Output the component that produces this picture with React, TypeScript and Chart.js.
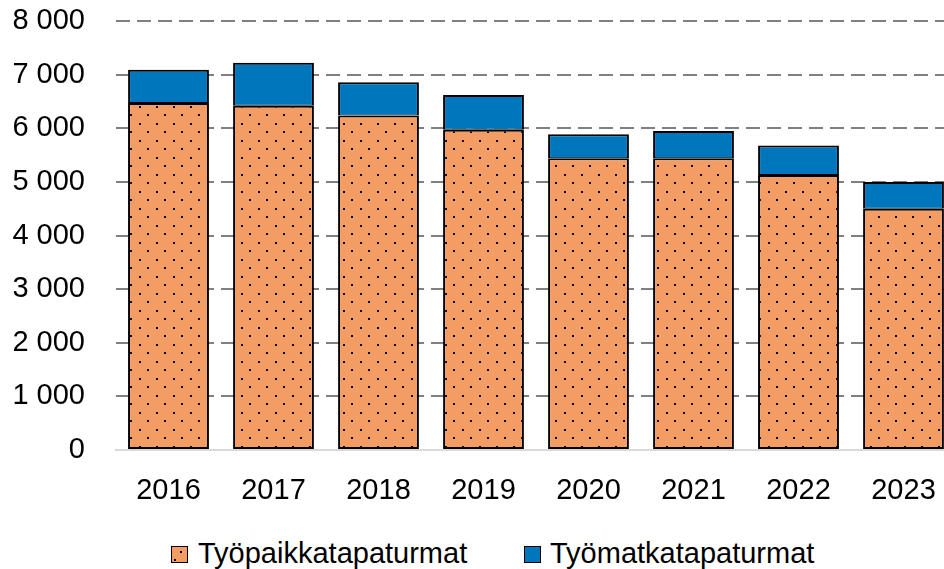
import React, { useEffect, useRef } from "react";
import { Chart, registerables } from "chart.js";

Chart.register(...registerables);

const years = ["2016", "2017", "2018", "2019", "2020", "2021", "2022", "2023"];
const tyopaikka = [6470, 6420, 6240, 5970, 5440, 5440, 5130, 4500];
const tyomatka = [620, 800, 620, 650, 450, 510, 550, 500];
const seriesNames = ["Työpaikkatapaturmat", "Työmatkatapaturmat"];
const yMax = 8000;
const yStep = 1000;

const ORANGE = "#F39C64";
const BLUE = "#0077BD";
const FONT = "'Liberation Sans', Arial, sans-serif";
const FS = 29;

function makePattern(): CanvasPattern | string {
  const c = document.createElement("canvas");
  c.width = 17;
  c.height = 17;
  const g = c.getContext("2d");
  if (!g) return ORANGE;
  g.fillStyle = ORANGE;
  g.fillRect(0, 0, 17, 17);
  g.fillStyle = "#000";
  g.fillRect(3, 4, 2, 2);
  g.fillRect(11, 12, 2, 2);
  const p = g.createPattern(c, "repeat");
  return p || ORANGE;
}

export default function App() {
  const ref = useRef<HTMLCanvasElement | null>(null);

  useEffect(() => {
    if (!ref.current) return;
    const pattern = makePattern();
    const chart = new Chart(ref.current, {
      type: "bar",
      data: {
        labels: years,
        datasets: [
          {
            label: seriesNames[0],
            data: tyopaikka,
            backgroundColor: pattern as any,
            borderColor: "#000",
            borderWidth: 2,
            borderSkipped: false,
            categoryPercentage: 1,
            barPercentage: 0.77,
          },
          {
            label: seriesNames[1],
            data: tyomatka,
            backgroundColor: BLUE,
            borderColor: "#000",
            borderWidth: { top: 2, left: 2, right: 2, bottom: 1 },
            borderSkipped: false,
            categoryPercentage: 1,
            barPercentage: 0.77,
          },
        ],
      },
      options: {
        animation: false,
        responsive: false,
        maintainAspectRatio: false,
        layout: { padding: { left: 13, top: 21, right: 4, bottom: 0 } },
        plugins: {
          legend: { display: false },
          tooltip: { enabled: false },
        },
        scales: {
          x: {
            stacked: true,
            grid: { display: false, drawTicks: false },
            border: { display: true, color: "#D9D9D9", width: 2 },
            ticks: {
              color: "#000",
              font: { family: FONT, size: FS },
              padding: 24,
              maxRotation: 0,
            },
            afterFit: (s: any) => {
              s.height = 60;
              s.paddingLeft = 0;
              s.paddingRight = 0;
            },
          },
          y: {
            stacked: true,
            min: 0,
            max: yMax,
            grid: {
              color: (ctx: any) => (ctx.tick && ctx.tick.value === 0 ? "rgba(0,0,0,0)" : "#808080"),
              lineWidth: 2,
              drawTicks: false,
            },
            border: { display: false, dash: [14, 7] },
            ticks: {
              stepSize: yStep,
              color: "#000",
              font: { family: FONT, size: FS },
              padding: 31,
              callback: (v: any) => {
                const n = Number(v);
                return n >= 1000 ? `${Math.floor(n / 1000)} ${String(n % 1000).padStart(3, "0")}` : String(n);
              },
            },
            afterFit: (s: any) => {
              s.width = 103;
              s.paddingTop = 0;
              s.paddingBottom = 0;
            },
          },
        },
      },
    });
    return () => chart.destroy();
  }, []);

  const legendText: React.CSSProperties = {
    position: "absolute",
    top: 536,
    fontFamily: FONT,
    fontSize: FS,
    lineHeight: "34px",
    color: "#000",
    whiteSpace: "nowrap",
  };
  const box = (left: number, bg: string): React.CSSProperties => ({
    position: "absolute",
    left,
    top: 546,
    width: 15,
    height: 15,
    background: bg,
    border: "1.5px solid #000",
  });

  return (
    <div style={{ position: "fixed", left: 0, top: 0, width: 944, height: 569, overflow: "hidden", background: "#fff" }}>
      <div style={{ position: "absolute", left: 0, top: 0, width: 960, height: 510 }}>
        <canvas ref={ref} width={960} height={510} style={{ display: "block" }} />
      </div>
      <div style={box(171, ORANGE)}>
        <div style={{ position: "absolute", left: 8, top: 4, width: 2, height: 2, background: "#000" }} />
        <div style={{ position: "absolute", left: 2, top: 12, width: 2, height: 2, background: "#000" }} />
      </div>
      <div style={{ ...legendText, left: 198 }}>{seriesNames[0]}</div>
      <div style={box(524, BLUE)} />
      <div style={{ ...legendText, left: 550 }}>{seriesNames[1]}</div>
    </div>
  );
}
